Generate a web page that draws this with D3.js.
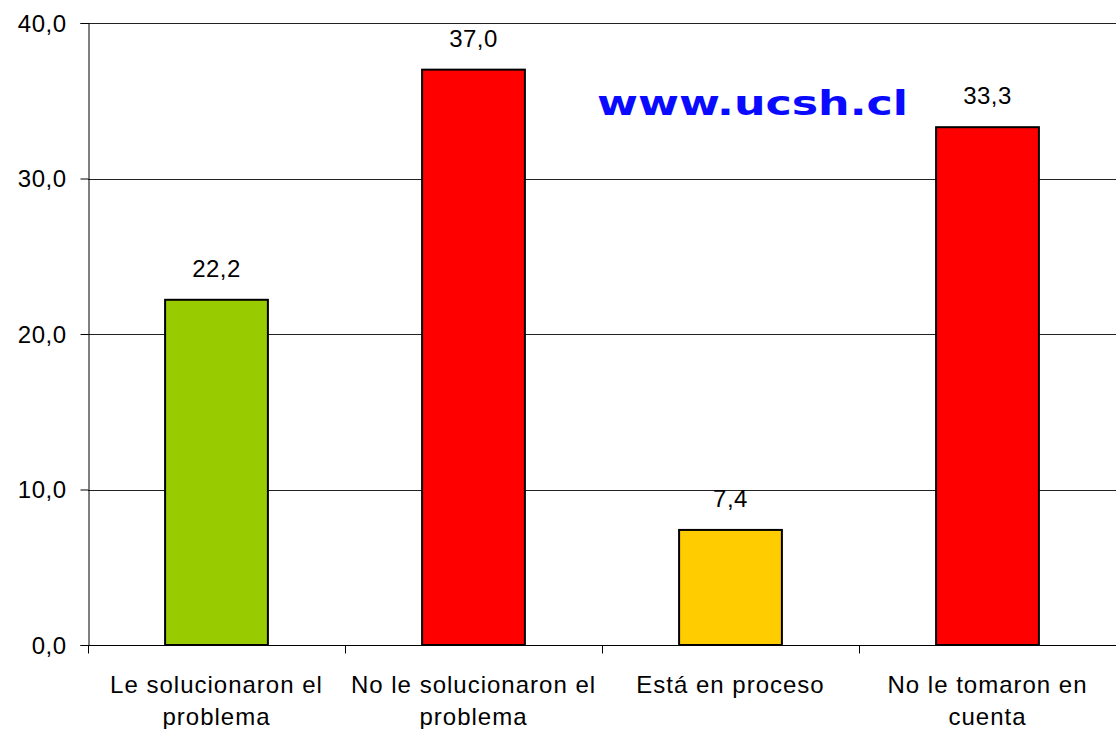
<!DOCTYPE html>
<html>
<head>
<meta charset="utf-8">
<script src="https://cdn.jsdelivr.net/npm/d3@7"></script>
<style>
  body { margin: 0; background: #fff; }
  text { font-family: "Liberation Sans", Arial, sans-serif; }
</style>
</head>
<body>
<div id="chart"></div>
<script>
// data
const categories = [["Le solucionaron el", "problema"], ["No le solucionaron el", "problema"], ["Está en proceso"], ["No le tomaron en", "cuenta"]]
const values = [22.2, 37.0, 7.4, 33.3]
const colors = ["#99cc00", "#ff0000", "#ffcc00", "#ff0000"]
const yTicks = [0, 10, 20, 30, 40]

const W = 1116, H = 729
const margin = { top: 23, right: 0, bottom: 84, left: 88 }
const width = W - margin.left - margin.right
const height = H - margin.top - margin.bottom

const fmt = d => d3.format(".1f")(d).replace(".", ",")

const svg = d3.select("#chart")
  .append("svg")
    .attr("width", W)
    .attr("height", H)
  .append("g")
    .attr("transform", `translate(${margin.left},${margin.top})`)

const x = d3.scaleBand()
  .domain(d3.range(values.length))
  .range([0, width])
  .paddingInner(0.6)
  .paddingOuter(0.3)

const y = d3.scaleLinear()
  .domain([0, 40])
  .range([height, 0])

// gridlines
svg.selectAll("line.grid")
  .data(yTicks.filter(d => d > 0))
  .join("line")
    .attr("class", "grid")
    .attr("x1", 0)
    .attr("x2", width)
    .attr("y1", d => Math.round(y(d)) + 0.5)
    .attr("y2", d => Math.round(y(d)) + 0.5)
    .attr("stroke", "#222")
    .attr("stroke-width", 1)

// y axis
const yAxis = svg.append("g")
  .attr("transform", "translate(0.5,0)")
  .call(d3.axisLeft(y).tickValues(yTicks).tickSize(8).tickFormat(fmt))
yAxis.select(".domain").attr("stroke", "#000")
yAxis.selectAll("line").attr("stroke", "#000")
yAxis.selectAll("text")
  .attr("x", -22)
  .attr("dy", "0.34em")
  .style("font-size", "24px")
  .style("letter-spacing", "0.5px")
  .style("font-family", "Liberation Sans, Arial, sans-serif")
  .attr("fill", "#000")

// x axis
const step = width / values.length
const xAxis = svg.append("g").attr("transform", `translate(0,${height + 0.5})`)
xAxis.append("line").attr("x1", 0).attr("x2", width).attr("stroke", "#000")
xAxis.selectAll("line.tk")
  .data(d3.range(values.length + 1))
  .join("line")
    .attr("class", "tk")
    .attr("x1", d => Math.round(d * step) + 0.5)
    .attr("x2", d => Math.round(d * step) + 0.5)
    .attr("y1", 0)
    .attr("y2", 8)
    .attr("stroke", "#000")

xAxis.selectAll("text.cat")
  .data(categories)
  .join("text")
    .attr("class", "cat")
    .attr("text-anchor", "middle")
    .attr("font-size", "24px")
    .style("letter-spacing", "1px")
    .attr("fill", "#000")
    .attr("transform", (d, i) => `translate(${x(i) + x.bandwidth() / 2},47)`)
    .selectAll("tspan")
    .data(d => d)
    .join("tspan")
      .attr("x", 0)
      .attr("y", (d, i) => i * 32)
      .text(d => d)

// bars
svg.selectAll("rect.bar")
  .data(values)
  .join("rect")
    .attr("class", "bar")
    .attr("x", (d, i) => x(i))
    .attr("y", d => y(d))
    .attr("width", x.bandwidth())
    .attr("height", d => height - y(d))
    .attr("fill", (d, i) => colors[i])
    .attr("stroke", "#000")
    .attr("stroke-width", 2)

// value labels
svg.selectAll("text.val")
  .data(values)
  .join("text")
    .attr("class", "val")
    .attr("x", (d, i) => x(i) + x.bandwidth() / 2)
    .attr("y", d => y(d) - 23)
    .attr("text-anchor", "middle")
    .attr("font-size", "24px")
    .style("letter-spacing", "0.5px")
    .attr("fill", "#000")
    .text(fmt)

// watermark
svg.append("text")
  .attr("x", 509)
  .attr("y", 92)
  .attr("font-size", "33px")
  .attr("font-weight", "bold")
  .attr("fill", "#0a0aff")
  .attr("textLength", 311)
  .attr("lengthAdjust", "spacingAndGlyphs")
  .style("font-family", "DejaVu Sans, Verdana, sans-serif")
  .text("www.ucsh.cl")
</script>
</body>
</html>
